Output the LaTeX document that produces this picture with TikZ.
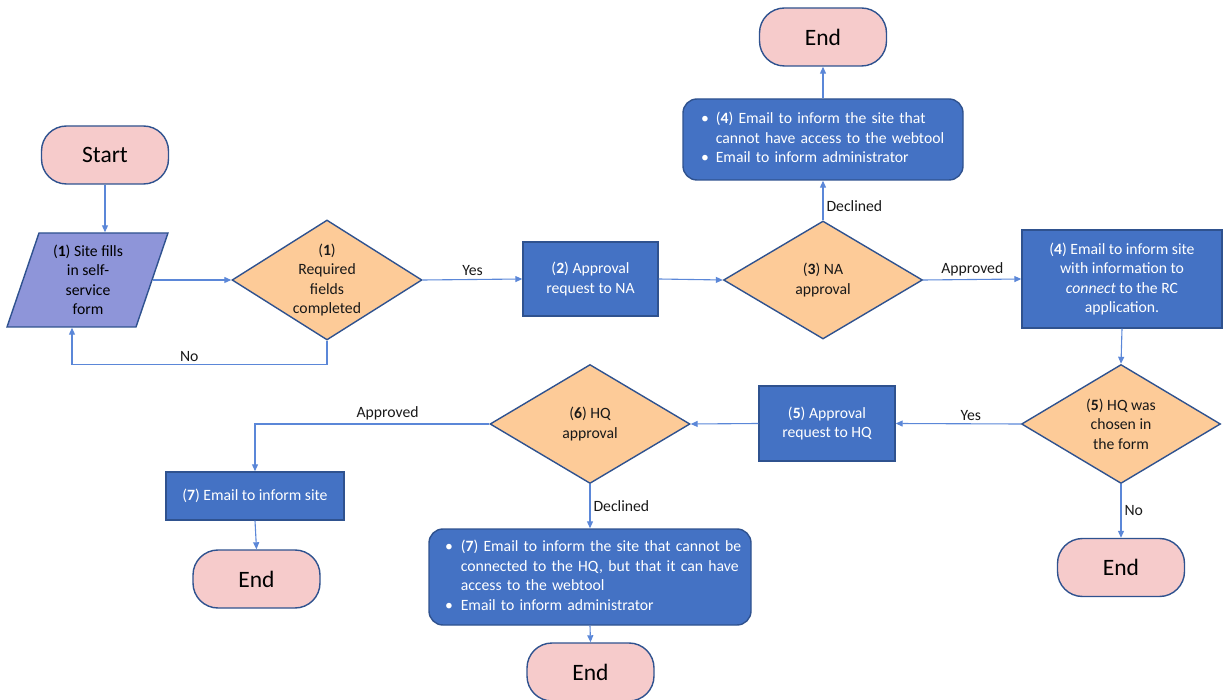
\documentclass[tikz,border=0pt]{standalone}
\usepackage{fontspec}
\setmainfont{Carlito}
\usetikzlibrary{shapes.geometric,arrows.meta}
\definecolor{pinkf}{HTML}{F6CBCB}
\definecolor{bordc}{HTML}{2F528F}
\definecolor{orangef}{HTML}{FDCB98}
\definecolor{bluef}{HTML}{4472C4}
\definecolor{paraf}{HTML}{8E95D9}
\definecolor{linec}{HTML}{5B87D8}
\newcommand{\bodyfont}{\fontsize{15.7}{19.5}\selectfont}
\tikzset{
  base/.style={draw=bordc, line width=1.4pt, align=center, font=\bodyfont, inner sep=0pt},
  term/.style={base, fill=pinkf, rounded corners=25pt, minimum width=127pt, minimum height=58pt, font=\fontsize{23.5}{28}\selectfont},
  dec/.style={base, diamond, fill=orangef, minimum width=199pt, minimum height=119pt},
  dectext/.style={label={[align=center, font=\bodyfont, text=black!90]center:#1}},
  proc/.style={base, fill=bluef, text=white},
  rproc/.style={base, fill=bluef, text=white, rounded corners=14pt, align=left},
  io/.style={base, draw=none, minimum width=129pt, minimum height=94pt},
  conn/.style={draw=linec, line width=1.1pt, -{Triangle[length=7pt,width=6pt]}},
  lbl/.style={font=\bodyfont, text=black!90, inner sep=3pt}
}
\begin{document}
\begin{tikzpicture}[x=1pt,y=-1pt]
\useasboundingbox (0,0) rectangle (1224,700);
% parallelogram outline of the input step
\filldraw[draw=bordc, fill=paraf, line width=1.4pt] (7,327) -- (39,233) -- (168,233) -- (136,327) -- cycle;
% nodes
\node[term] (start) at (105,155) {Start};
\node[io] (para) at (88,280) {(\textbf{1}) Site fills\\in self-\\service\\form};
\node[dec, minimum width=190pt, minimum height=120pt, dectext={(\textbf{1})\\Required\\fields\\completed}] (d1) at (327,280) {};
\node[proc, minimum width=135pt, minimum height=74pt] (box2) at (590.5,279) {(\textbf{2}) Approval\\request to NA};
\node[dec, minimum height=118pt, dectext={(\textbf{3}) NA\\approval}] (d3) at (823,280) {};
\node[rproc, minimum width=280pt, minimum height=81pt, text width=244pt, inner xsep=18pt] (box4top) at (823,139.5) {%
\begin{tabular}{@{}l@{\hspace{7pt}}l@{}}
\textbullet & (\textbf{4}) Email to inform the site that\\
 & cannot have access to the webtool\\
\textbullet & Email to inform administrator
\end{tabular}};
\node[term] (endtop) at (823,37) {End};
\node[proc, minimum width=200pt, minimum height=98pt] (box4) at (1122,279) {(\textbf{4}) Email to inform site\\with information to\\\textit{connect} to the RC\\application.};
\node[dec, dectext={(\textbf{5}) HQ was\\chosen in\\the form}] (d5) at (1121,424) {};
\node[term] (endr) at (1121,567.5) {End};
\node[proc, minimum width=136pt, minimum height=75pt] (box5) at (827,423.5) {(\textbf{5}) Approval\\request to HQ};
\node[dec, minimum width=200pt, dectext={(\textbf{6}) HQ\\approval}] (d6) at (590,424) {};
\node[proc, minimum width=178pt, minimum height=48pt] (box7) at (255,496) {(\textbf{7}) Email to inform site};
\node[term] (endl) at (256.5,579) {End};
\node[rproc, minimum width=322pt, minimum height=96pt, text width=290pt, inner xsep=16pt] (box7b) at (590,577) {%
\begin{tabular}{@{}l@{\hspace{8pt}}l@{}}
\textbullet & (\textbf{7}) Email to inform the site that cannot be\\
 & connected to the HQ, but that it can have\\
 & access to the webtool\\
\textbullet & Email to inform administrator
\end{tabular}};
\node[term] (endb) at (590.5,672) {End};
% connectors
\draw[conn] (start.south) -- (start.south |- para.north);
\draw[conn] (para.east) -- (d1.west);
\draw[conn] (d1.south) -- ([yshift=-24pt]d1.south) -| node[lbl, pos=0.27, above]{No} ([xshift=-16pt]para.south);
\draw[conn] (d1.east) -- node[lbl, midway, above]{Yes} (box2.west);
\draw[conn] (box2.east) -- (d3.west);
\draw[conn] (d3.north) -- node[lbl, pos=0.35, right]{Declined} (box4top.south);
\draw[conn] (box4top.north) -- (endtop.south);
\draw[conn] (d3.east) -- node[lbl, midway, above]{Approved} (box4.west);
\draw[conn] (box4.south) -- (d5.north);
\draw[conn] (d5.west) -- node[lbl, pos=0.4, above]{Yes} (box5.east);
\draw[conn] (d5.south) -- node[lbl, midway, right]{No} (endr.north);
\draw[conn] (box5.west) -- (d6.east);
\draw[conn] (d6.west) -| node[lbl, pos=0.217, above]{Approved} (box7.north);
\draw[conn] (box7.south) -- (endl.north);
\draw[conn] (d6.south) -- node[lbl, midway, right]{Declined} (box7b.north);
\draw[conn] (box7b.south) -- (endb.north);
\end{tikzpicture}
\end{document}
